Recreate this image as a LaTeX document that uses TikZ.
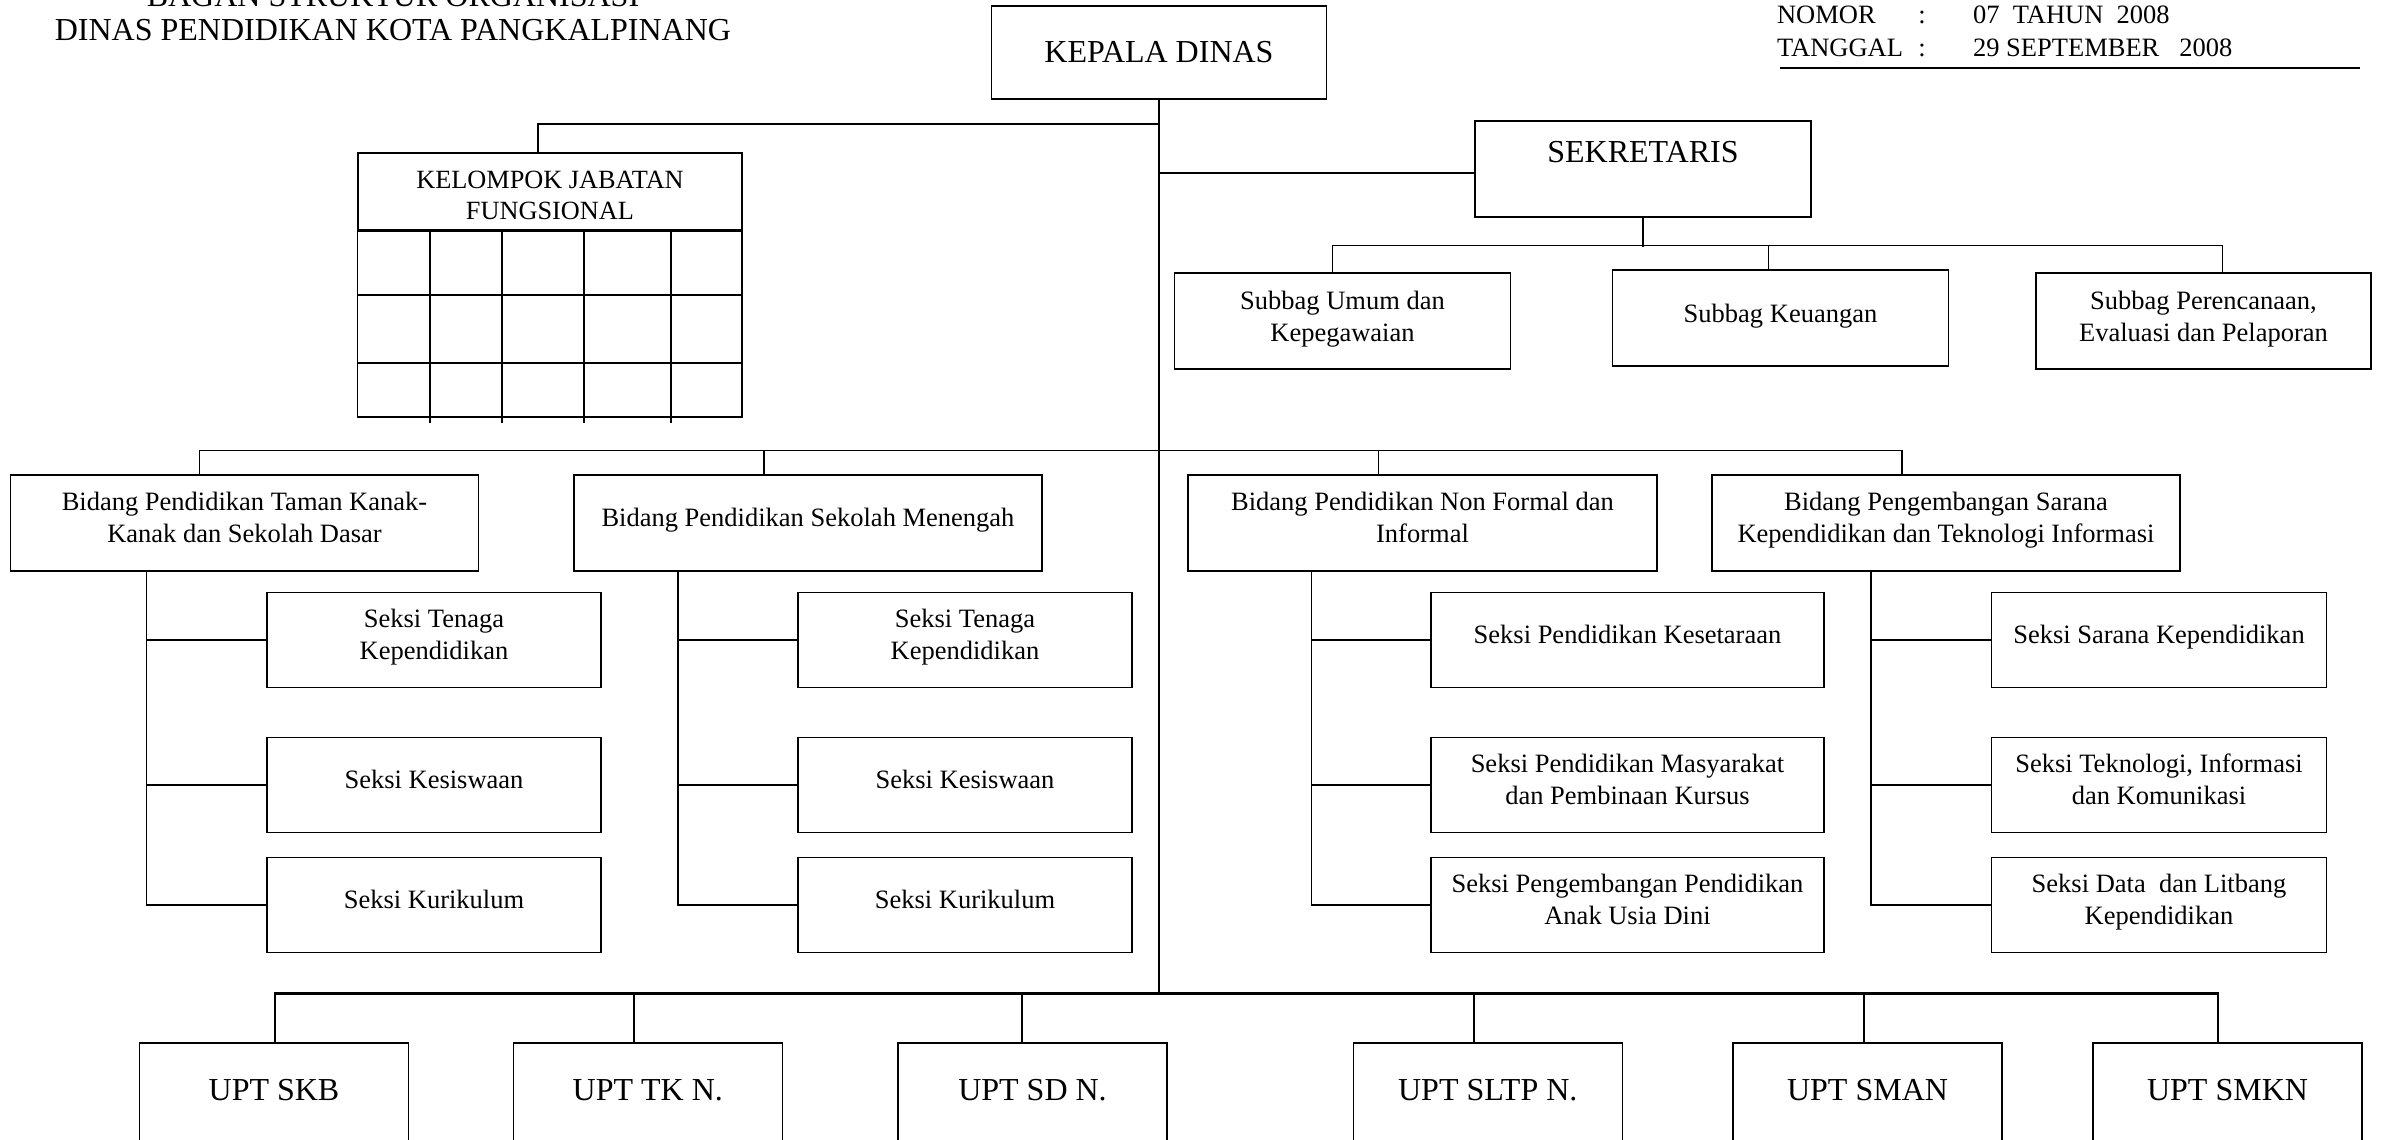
\documentclass[tikz,border=0pt]{standalone}
\usepackage{fontspec}
\setmainfont{Liberation Serif}
\tikzset{
  box/.style={draw, line width=1.5pt, align=center, inner sep=2pt, minimum height=95pt, font=\fontsize{26.5}{32}\selectfont},
  subbagbox/.style={box, minimum width=336pt, minimum height=96pt, text depth=10pt},
  bidangbox/.style={box, minimum width=468pt, minimum height=96pt, text depth=11pt},
  seksibox/.style={box, minimum width=334pt, text depth=11pt},
  uptbox/.style={box, minimum width=269pt, minimum height=100pt, text height=15pt, font=\fontsize{32}{38}\selectfont},
  bigtext/.style={font=\fontsize{32}{38}\selectfont},
  smalltext/.style={font=\fontsize{26.5}{32}\selectfont},
}
\begin{document}
\begin{tikzpicture}[x=1pt, y=-1pt, line width=1.5pt]
    \useasboundingbox (0,0) rectangle (2382,1140);

    % judul dan nomor
    \node[bigtext, anchor=base] (judul1) at (393,7) {BAGAN STRUKTUR ORGANISASI};
    \node[bigtext, anchor=base] (judul2) at (393,41) {DINAS PENDIDIKAN KOTA PANGKALPINANG};

    \node[smalltext, anchor=base west] (nomor) at (1773,24) {NOMOR};
    \node[smalltext, anchor=base] (nomorsep) at (1922,24) {:};
    \node[smalltext, anchor=base west] (nomorisi) at (1969,24) {07\ \ TAHUN\ \ 2008};
    \node[smalltext, anchor=base west] (tanggal) at (1773,57) {TANGGAL};
    \node[smalltext, anchor=base] (tanggalsep) at (1922,57) {:};
    \node[smalltext, anchor=base west] (tanggalisi) at (1969,57) {29 SEPTEMBER\ \ \ 2008};
    \draw (1780,68) -- (2360,68);

    % pimpinan
    \node[box, bigtext, minimum width=335pt, minimum height=93pt] (kepala) at (1159,52.5) {KEPALA DINAS};
    \node[box, bigtext, minimum width=336pt, minimum height=96pt, text depth=34pt] (sekretaris) at (1643,169) {SEKRETARIS};

    % kelompok jabatan fungsional
    \node[box, font=\fontsize{26.3}{31}\selectfont, minimum width=384pt, minimum height=77pt, text height=57pt] (kjf) at (550,191.5) {KELOMPOK JABATAN\\FUNGSIONAL};
    \draw (kjf.south west) rectangle (742,417);
    \foreach \y in {295,363} {
        \draw (358,\y) -- (742,\y);
    }
    \foreach \x in {430,502,584,671} {
        \draw (\x,230) -- (\x,423);
    }

    % subbagian
    \node[subbagbox] (umum) at (1342.5,321) {Subbag Umum dan\\Kepegawaian};
    \node[subbagbox] (keu) at (1780.5,318) {Subbag Keuangan};
    \node[subbagbox, minimum width=335pt] (ren) at (2203.5,321) {Subbag Perencanaan,\\Evaluasi dan Pelaporan};

    % bidang
    \node[bidangbox] (tk) at (244.5,523) {Bidang Pendidikan Taman Kanak-\\Kanak dan Sekolah Dasar};
    \node[bidangbox] (sm) at (808,523) {Bidang Pendidikan Sekolah Menengah};
    \node[bidangbox, minimum width=469pt] (nf) at (1422.5,523) {Bidang Pendidikan Non Formal dan\\Informal};
    \node[bidangbox] (sr) at (1946,523) {Bidang Pengembangan Sarana\\Kependidikan dan Teknologi Informasi};

    % seksi
    \node[seksibox] (tk1) at (434,640) {Seksi Tenaga\\Kependidikan};
    \node[seksibox] (tk2) at (434,785) {Seksi Kesiswaan};
    \node[seksibox] (tk3) at (434,905) {Seksi Kurikulum};

    \node[seksibox] (sm1) at (965,640) {Seksi Tenaga\\Kependidikan};
    \node[seksibox] (sm2) at (965,785) {Seksi Kesiswaan};
    \node[seksibox] (sm3) at (965,905) {Seksi Kurikulum};

    \node[seksibox, minimum width=393pt] (nf1) at (1627.5,640) {Seksi Pendidikan Kesetaraan};
    \node[seksibox, minimum width=393pt] (nf2) at (1627.5,785) {Seksi Pendidikan Masyarakat\\dan Pembinaan Kursus};
    \node[seksibox, minimum width=393pt] (nf3) at (1627.5,905) {Seksi Pengembangan Pendidikan\\Anak Usia Dini};

    \node[seksibox, minimum width=335pt] (sr1) at (2159,640) {Seksi Sarana Kependidikan};
    \node[seksibox, minimum width=335pt] (sr2) at (2159,785) {Seksi Teknologi, Informasi\\dan Komunikasi};
    \node[seksibox, minimum width=335pt] (sr3) at (2159,905) {Seksi Data\ \ dan Litbang\\Kependidikan};

    % UPT
    \node[uptbox] (upt1) at (274,1093) {UPT SKB};
    \node[uptbox] (upt2) at (647.75,1093) {UPT TK N.};
    \node[uptbox] (upt3) at (1032.5,1093) {UPT SD N.};
    \node[uptbox] (upt4) at (1487.75,1093) {UPT SLTP N.};
    \node[uptbox] (upt5) at (1867.5,1093) {UPT SMAN};
    \node[uptbox] (upt6) at (2227.5,1093) {UPT SMKN};

    % garis komando
    \coordinate (busL) at (275,993.5);
    \coordinate (busR) at (2218,993.5);
    \draw (kepala.south) -- (busL -| kepala.south);
    \draw (kepala.south |- 0,124) -| ([xshift=-12pt]kjf.north);
    \draw ([yshift=-4pt]sekretaris.west) -- ([yshift=-4pt]sekretaris.west -| kepala.south);

    \draw (sekretaris.south) -- ++(0,29);
    \draw ([xshift=-10pt]umum.north) -- ++(0,-27) -| ([xshift=19pt]ren.north);
    \draw ([xshift=-12pt]keu.north) -- ++(0,-24);

    \draw ([xshift=-45pt]tk.north) -- ++(0,-24) -| ([xshift=-44pt]sr.north);
    \draw ([xshift=-44pt]sm.north) -- ++(0,-24);
    \draw ([xshift=-44pt]nf.north) -- ++(0,-24);

    \foreach \b/\dx in {tk/-98, sm/-130, nf/-111, sr/-75} {
        \coordinate (\b-spine) at ([xshift=\dx pt]\b.south);
        \draw (\b-spine) |- (\b3.west);
        \foreach \i in {1,2} {
            \draw (\b\i.west) -- (\b\i.west -| \b-spine);
        }
    }

    \draw[line width=2.6pt] (busL) -- (busR);
    \foreach \n/\dx in {upt1/1, upt2/-14, upt3/-10.5, upt4/-14, upt5/-3.5, upt6/-9.5} {
        \draw ([xshift=\dx pt]\n.north) -- ++(0,-50);
    }
\end{tikzpicture}
\end{document}
